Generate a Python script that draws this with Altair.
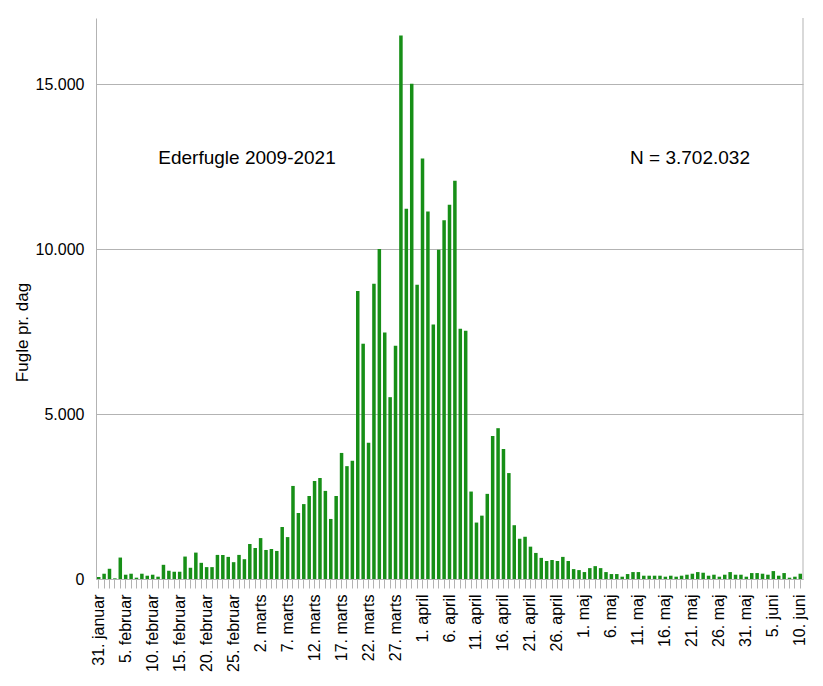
import json
import altair as alt
import pandas as pd

# Month names (Danish) and the days shown from each month
month_names = ["januar", "februar", "marts", "april", "maj", "juni"]
month_first = [31, 1, 1, 1, 1, 1]
month_last = [31, 28, 31, 30, 31, 10]

labels = []
for name, first, last in zip(month_names, month_first, month_last):
    for d in range(first, last + 1):
        labels.append(f"{d}. {name}")

# Birds per day, 31 January .. 10 June
fugle = [
    60, 160, 310, 20, 650, 130, 160, 40, 160, 100,
    130, 70, 430, 250, 220, 220, 680, 340, 800, 490,
    360, 360, 730, 730, 670, 510, 730, 600, 1060, 940,
    1240, 880, 910, 850, 1575, 1270, 2820, 2000, 2270, 2515,
    2970, 3060, 2670, 1820, 2515, 3820, 3420, 3580, 8730, 7130,
    4130, 8950, 10000, 7470, 5510, 7070, 16470, 11220, 15010, 8920,
    12740, 11140, 7710, 9980, 10870, 11340, 12070, 7580, 7520, 2650,
    1710, 1920, 2580, 4330, 4570, 3940, 3210, 1630, 1220, 1280,
    980, 790, 640, 545, 575, 545, 670, 545, 300, 270,
    210, 330, 390, 330, 210, 150, 150, 70, 150, 210,
    210, 100, 100, 100, 100, 70, 100, 70, 100, 130,
    160, 210, 190, 100, 130, 70, 130, 210, 130, 130,
    70, 180, 180, 160, 130, 240, 100, 180, 40, 70,
    160,
]

shown = labels[::5]
y_ticks = [0, 5000, 10000, 15000]
title_text = "Ederfugle 2009-2021"
n_text = "N = 3.702.032"

df = pd.DataFrame({"dag": labels, "fugle": fugle})
one = pd.DataFrame({"k": [0]})

FONT = "Liberation Sans"
GRAY = "#b3b3b3"
W, H = 707, 561

bars = alt.Chart(df).mark_bar(color="#178f17").encode(
    x=alt.X(
        "dag:N",
        sort=labels,
        scale=alt.Scale(paddingInner=0.35, paddingOuter=0.175),
        axis=alt.Axis(
            title=None,
            labelAngle=270,
            labelAlign="right",
            labelBaseline="middle",
            labelFont=FONT,
            labelFontSize=16,
            labelColor="#000000",
            labelPadding=6,
            labelOverlap=False,
            labelExpr="indexof(" + json.dumps(shown) + ", datum.value) >= 0 ? datum.value : ''",
            tickColor=GRAY,
            tickSize=9,
            domainColor=GRAY,
            grid=False,
        ),
    ),
    y=alt.Y(
        "fugle:Q",
        scale=alt.Scale(domain=[0, 17000], nice=False),
        axis=alt.Axis(
            title="Fugle pr. dag",
            values=y_ticks,
            labelExpr="replace(format(datum.value, ','), ',', '.')",
            labelFont=FONT,
            labelFontSize=16,
            labelColor="#000000",
            labelPadding=12,
            ticks=False,
            domainColor=GRAY,
            grid=True,
            gridColor=GRAY,
            titleFont=FONT,
            titleFontSize=17,
            titleFontWeight="normal",
            titleColor="#000000",
            titleX=-74,
            titleY=314,
            titleAngle=270,
            titleAlign="center",
            titleBaseline="middle",
        ),
    ),
)

right_border = alt.Chart(one).mark_rule(color=GRAY).encode(
    x=alt.value(W), y=alt.value(0), y2=alt.value(H)
)

t1 = alt.Chart(one).mark_text(font=FONT, fontSize=19, color="#000000").encode(
    x=alt.value(151), y=alt.value(140), text=alt.value(title_text)
)
t2 = alt.Chart(one).mark_text(font=FONT, fontSize=19, color="#000000").encode(
    x=alt.value(594), y=alt.value(140), text=alt.value(n_text)
)

chart = alt.layer(bars, right_border, t1, t2).properties(
    width=W,
    height=H,
    autosize=alt.AutoSizeParams(type="none"),
    padding={"left": 88, "top": 10, "right": 12, "bottom": 98},
).configure_view(stroke=None)

chart.save("out.html", embed_options={"renderer": "svg", "actions": False})
